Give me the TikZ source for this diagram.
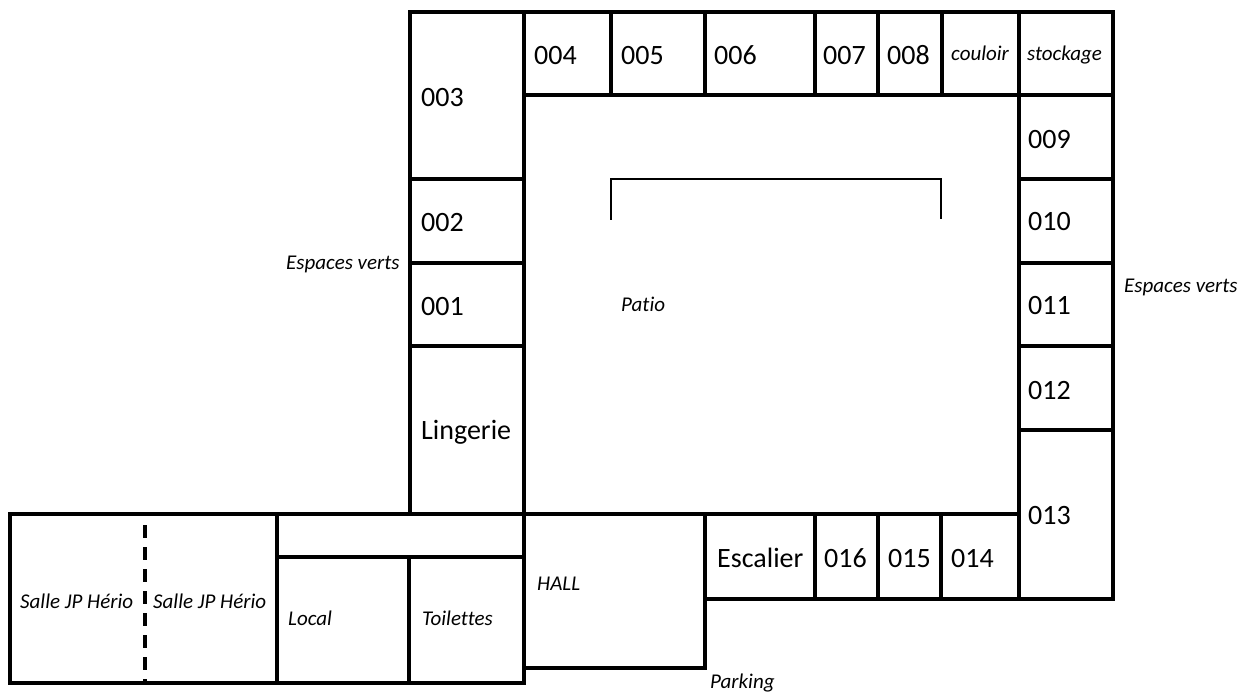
\documentclass[tikz,border=0pt]{standalone}
\usepackage{fontspec}
\setmainfont{Carlito}[Ligatures=CommonOff]
\usetikzlibrary{positioning}

\begin{document}
\begin{tikzpicture}[x=1pt,y=-1pt,
    wall/.style={line width=3.2pt},
    thinwall/.style={line width=2.4pt},
    room/.style={anchor=base west,inner sep=0pt,font=\fontsize{28}{30}\selectfont},
    label/.style={anchor=base west,inner sep=0pt,font=\fontsize{21}{23}\selectfont\itshape}]

    \useasboundingbox (0,0) rectangle (1243,695);

    % aile gauche
    \draw[wall] (410,12)  rectangle (524,179);
    \draw[wall] (410,179) rectangle (524,263);
    \draw[wall] (410,263) rectangle (524,346);
    \draw[wall] (410,346) rectangle (524,514);

    % aile nord
    \draw[wall] (524,12) rectangle (611,95);
    \draw[wall] (611,12) rectangle (705,95);
    \draw[wall] (705,12) rectangle (815,95);
    \draw[wall] (815,12) rectangle (878,95);
    \draw[wall] (878,12) rectangle (942,95);
    \draw[wall] (942,12) rectangle (1019,95);
    \draw[wall] (1019,12) rectangle (1113,95);

    % aile droite
    \draw[wall] (1019,95)  rectangle (1113,179);
    \draw[wall] (1019,179) rectangle (1113,263);
    \draw[wall] (1019,263) rectangle (1113,346);
    \draw[wall] (1019,346) rectangle (1113,430);
    \draw[wall] (1019,430) rectangle (1113,599);

    % aile sud
    \draw[wall] (524,514) rectangle (705,668);
    \draw[wall] (705,514) rectangle (815,599);
    \draw[wall] (815,514) rectangle (878,599);
    \draw[wall] (878,514) rectangle (941,599);
    \draw[wall] (941,514) rectangle (1019,599);

    % salles
    \draw[wall] (10,514) rectangle (524,683);
    \draw[wall] (277,514) -- (277,683);
    \draw[wall] (277,557) -- (524,557);
    \draw[wall] (409,557) -- (409,683);
    \draw[wall,dash pattern=on 13pt off 9pt] (145,525) -- (145,683);

    % patio
    \draw[thinwall] (611,220) |- (941,179) -- (941,219);

    \node[room]  (r003) at (421,107) {003};
    \node[room]  (r002) at (421,232) {002};
    \node[room]  (r001) at (421,316) {001};
    \node[room]  (ling) at (421,439) {Lingerie};
    \node[room]  (r004) at (534,65)  {004};
    \node[room]  (r005) at (621,65)  {005};
    \node[room]  (r006) at (714,65)  {006};
    \node[room]  (r007) at (823,65)  {007};
    \node[room]  (r008) at (887,65)  {008};
    \node[label] (coul) at (951,61)  {couloir};
    \node[label] (stock) at (1027,61) {stockage};
    \node[room]  (r009) at (1028,149) {009};
    \node[room]  (r010) at (1028,231) {010};
    \node[room]  (r011) at (1028,315) {011};
    \node[room]  (r012) at (1028,399) {012};
    \node[room]  (r013) at (1028,524) {013};
    \node[room]  (esc)  at (717,567) {Escalier};
    \node[room]  (r016) at (824,567) {016};
    \node[room]  (r015) at (888,567) {015};
    \node[room]  (r014) at (951,567) {014};

    \node[label] (hall)  at (537,590) {HALL};
    \node[label] (patio) at (621,312) {Patio};
    \node[label] (salleA) at (20,608)  {Salle JP Hério};
    \node[label] (salleB) at (153,608) {Salle JP Hério};
    \node[label] (local) at (288,625) {Local};
    \node[label] (wc)    at (422,625) {Toilettes};
    \node[label] (park)  at (710,688) {Parking};
    \node[label] (vertG) at (286,270) {Espaces verts};
    \node[label] (vertD) at (1124,292) {Espaces verts};
\end{tikzpicture}
\end{document}
